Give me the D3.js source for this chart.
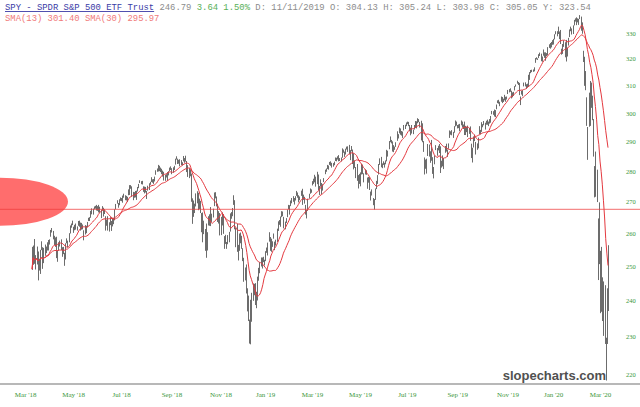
<!DOCTYPE html>
<html><head><meta charset="utf-8">
<script src="https://cdn.jsdelivr.net/npm/d3@7"></script>
<style>html,body{margin:0;padding:0;background:#fff;}svg{display:block}</style>
</head><body>
<svg id="chart" width="640" height="407"></svg>
<script>
// ---------- DATA (SPY daily, dividend adjusted) ----------
const startDate = "2018-03-23";
const holidays = ["2018-03-30","2018-05-28","2018-07-04","2018-09-03","2018-11-22","2018-12-05","2018-12-25",
  "2019-01-01","2019-01-21","2019-02-18","2019-04-19","2019-05-27","2019-07-04","2019-09-02","2019-11-28","2019-12-25",
  "2020-01-01","2020-01-20","2020-02-17"];

const closes = [
249.2,256.0,251.6,250.9,254.3,
248.6,251.8,254.7,256.4,250.8,251.6,255.9,254.4,256.5,255.8,257.9,260.6,260.8,259.3,257.1,257.1,253.7,254.2,256.8,257.1,255.0,
255.7,253.8,253.2,256.5,257.4,257.3,259.8,262.2,262.7,262.9,261.1,262.2,261.9,261.3,263.2,262.4,263.2,262.7,262.1,259.0,262.3,260.5,
263.3,264.5,264.7,267.0,266.8,267.6,267.9,268.4,267.3,268.0,268.8,268.2,267.1,267.6,265.9,266.4,262.7,263.3,261.1,262.7,262.9,
263.7,262.4,264.6,266.9,269.2,270.2,268.2,270.6,270.9,270.6,271.7,272.3,271.2,270.9,271.4,272.7,275.2,274.4,272.6,271.0,272.3,
272.1,273.4,274.7,275.6,276.4,276.3,275.9,274.0,272.9,274.6,272.5,274.7,275.6,276.3,276.9,276.7,276.3,278.0,280.1,280.2,281.8,280.5,280.6,
280.1,279.3,278.3,277.7,278.2,279.3,279.4,280.8,280.9,279.3,280.8,281.2,283.4,284.2,283.2,282.8,281.9,282.7,282.7,
283.7,283.6,283.8,281.5,279.9,279.8,279.4,270.2,264.7,268.4,266.8,272.6,272.5,268.6,268.5,267.3,265.9,257.6,262.4,257.9,256.2,260.2,263.0,
265.8,264.1,265.6,267.3,272.9,272.3,269.8,264.4,264.0,262.1,264.8,265.4,261.0,256.3,257.0,255.4,259.3,260.2,266.1,265.6,267.7,
270.7,261.9,261.5,255.4,255.9,255.8,257.2,257.1,252.2,247.0,247.0,243.2,239.3,235.1,228.8,240.1,242.2,241.9,243.9,
244.2,238.2,246.4,248.1,250.5,251.5,252.6,252.6,251.3,254.0,254.5,256.5,259.9,256.2,256.7,257.1,259.3,257.3,256.9,260.9,263.1,
263.3,265.1,266.4,265.8,263.3,263.5,263.7,267.1,267.9,267.2,270.1,270.5,271.0,270.0,271.7,272.1,271.8,271.7,270.9,
272.8,271.7,271.4,269.7,267.5,266.9,270.8,271.6,273.5,273.3,276.0,277.1,277.0,276.2,279.2,273.9,273.7,275.6,274.4,275.3,277.2,
280.4,280.4,281.0,281.6,282.9,283.2,281.5,282.5,282.5,284.3,284.2,284.3,283.7,284.1,284.4,286.9,286.3,286.2,287.5,287.8,288.1,
285.9,285.3,288.1,286.8,282.1,281.6,280.8,281.8,275.0,277.2,278.8,281.3,279.7,277.8,280.1,279.3,276.0,276.4,274.1,272.2,272.8,269.2,
268.4,274.2,276.4,278.1,281.0,282.3,282.2,281.6,282.8,282.3,282.6,285.4,286.2,288.9,290.3,289.8,287.1,286.7,287.8,289.5,
291.7,292.5,294.8,294.3,292.8,293.2,294.5,295.2,296.6,296.6,295.6,293.7,294.7,292.9,293.7,295.7,297.1,295.6,297.8,297.3,296.5,293.3,
290.6,288.5,279.9,283.6,283.8,289.1,287.2,283.7,288.0,279.5,280.2,284.3,287.7,285.4,287.8,287.6,280.2,283.2,282.3,284.2,287.8,288.0,
286.0,289.1,292.8,293.1,293.1,293.2,295.3,296.1,295.9,295.0,295.8,295.9,295.9,295.6,295.6,293.1,294.9,294.2,292.6,294.1,
290.5,285.3,287.6,291.7,290.4,285.8,288.4,290.3,293.5,293.1,296.0,295.4,296.2,295.0,297.1,296.0,296.9,297.4,298.6,300.3,300.0,301.0,300.1,
303.0,304.1,303.8,304.0,304.8,305.6,305.0,305.5,305.7,305.9,308.3,308.5,308.3,307.1,306.6,307.3,309.6,310.3,311.6,310.3,
307.6,305.6,307.5,308.0,310.8,309.8,309.5,310.4,313.1,313.1,315.3,315.4,315.3,316.7,319.9,320.1,320.1,321.7,321.7,319.9,320.8,
323.5,321.2,322.4,321.5,323.0,325.2,324.3,326.5,326.0,326.6,329.4,330.6,329.8,329.9,330.2,327.2,322.1,325.3,325.0,326.1,320.3,
322.6,327.5,331.1,332.2,330.4,332.9,333.4,335.6,335.0,335.6,334.7,336.3,335.0,331.4,320.3,310.6,309.5,295.8,293.4,
306.9,298.2,310.8,300.3,295.2,272.7,286.2,272.2,246.3,269.2,236.9,251.1,238.1,239.3,228.8,223.0,243.2,246.8];

const highs = [
255.9,256.3,258.3,253.4,256.0,
254.5,252.3,255.0,257.6,255.8,255.6,256.6,256.0,257.3,258.0,258.2,261.1,261.7,260.8,259.3,258.8,259.0,254.8,257.3,257.8,258.2,
255.8,255.9,254.1,257.0,258.5,257.8,260.1,262.5,263.1,264.0,262.1,262.7,263.1,262.2,263.9,264.0,263.4,263.3,262.8,261.0,262.6,262.4,
263.6,264.9,265.1,267.1,267.9,267.8,268.5,268.7,269.0,268.6,269.0,268.4,267.5,268.6,268.1,267.6,265.4,264.3,265.4,263.5,265.1,
263.9,264.9,264.8,267.6,269.3,270.5,269.6,270.8,271.4,271.2,272.0,272.6,272.1,271.9,271.6,274.0,275.4,275.4,275.0,273.2,273.1,
273.5,273.6,274.8,275.8,277.0,276.7,276.8,275.0,274.9,274.8,273.5,275.2,276.0,276.5,278.0,277.3,277.4,278.2,280.3,280.9,282.1,281.8,281.2,
280.8,280.2,279.8,278.8,279.0,279.7,280.0,281.2,281.6,281.0,281.3,281.8,284.2,285.0,284.2,283.8,284.0,283.7,283.0,
285.1,284.4,285.2,283.4,282.0,281.0,280.6,279.2,271.1,270.4,269.4,272.7,273.4,272.9,271.0,270.3,266.4,266.6,264.0,261.4,263.1,260.4,265.4,
266.0,268.3,266.2,267.8,273.0,273.1,271.7,269.4,267.0,266.4,265.2,266.6,266.0,259.2,259.6,257.4,259.5,260.5,266.3,266.7,268.0,
272.1,270.5,261.8,263.0,256.5,260.0,260.3,259.3,255.5,252.6,249.7,250.6,243.6,241.5,234.7,240.3,242.3,245.0,244.9,
245.1,242.6,247.0,249.6,251.3,252.7,252.7,252.9,252.0,254.6,255.7,257.2,260.4,258.9,258.4,257.6,260.0,257.5,258.1,261.5,263.8,
264.2,265.3,267.0,266.9,265.2,263.7,264.8,267.5,269.0,268.9,270.4,271.2,271.8,271.2,271.8,273.5,273.0,272.1,271.7,
273.6,274.2,272.3,271.6,269.0,267.4,271.0,272.6,274.3,274.0,276.7,277.5,278.8,278.2,279.8,278.9,275.1,277.3,276.1,275.7,277.7,
280.5,280.9,282.1,281.9,283.1,283.3,282.8,282.7,283.2,284.6,284.5,285.0,285.4,284.4,284.6,287.7,287.3,286.6,287.6,288.3,288.4,
288.9,287.1,288.5,287.3,286.0,283.6,281.4,282.4,278.7,279.1,279.6,282.5,282.2,279.3,280.6,280.3,277.9,278.1,278.0,273.3,274.0,271.2,
270.9,274.3,276.8,278.7,282.4,284.3,284.8,282.6,283.3,282.8,283.6,287.2,286.9,290.2,291.8,290.6,290.1,288.8,288.3,289.8,
293.6,292.6,294.9,294.6,293.7,293.5,295.8,295.9,296.7,297.0,296.9,295.8,294.9,295.8,294.2,295.8,297.2,297.1,298.2,297.9,296.9,297.3,
296.4,290.2,284.6,283.9,284.2,289.2,289.0,286.7,290.6,284.7,281.4,285.3,288.8,287.8,288.6,289.2,288.4,283.5,285.3,284.5,288.5,289.3,
287.3,289.4,293.9,293.6,294.0,293.4,295.4,297.4,297.0,295.8,296.0,296.2,297.4,297.0,296.0,297.0,295.5,295.1,295.6,294.8,
295.3,289.3,287.9,291.8,292.4,289.9,289.4,291.4,295.4,294.1,296.8,296.1,297.2,296.6,297.3,297.7,297.0,297.9,299.0,300.8,300.7,301.3,301.1,
303.1,304.6,304.8,304.1,306.0,305.8,305.2,306.6,305.9,306.0,308.4,308.7,309.0,308.1,307.5,307.7,309.8,310.4,311.8,311.3,
311.0,306.0,308.1,308.3,311.1,311.2,310.5,310.7,314.0,315.0,315.8,315.9,316.0,316.8,320.3,320.6,320.2,321.8,322.4,322.0,320.9,
323.6,322.5,322.5,322.2,324.5,325.6,326.1,326.5,327.2,327.7,329.5,330.7,330.7,332.5,330.6,331.2,323.9,325.7,327.1,326.4,327.3,
324.2,328.1,331.4,332.5,331.8,333.0,335.2,335.8,336.2,335.8,335.6,337.1,336.5,334.2,323.1,320.8,315.4,305.7,295.1,
307.4,311.7,311.1,306.3,297.9,281.7,286.6,280.5,264.7,269.8,254.7,255.9,246.8,245.6,244.5,229.7,243.6,256.4];

const lows = [
249.0,250.5,250.8,249.1,250.6,
245.9,248.8,247.8,254.9,249.3,251.0,253.2,254.0,254.8,254.8,256.6,259.0,260.3,258.2,256.4,255.9,252.5,251.4,254.7,256.0,254.9,
252.9,253.7,250.2,252.1,257.0,255.8,257.3,260.0,261.8,262.6,260.2,261.0,261.2,260.9,262.4,262.1,260.9,261.2,261.3,257.9,259.7,260.1,
261.9,263.9,263.9,264.9,266.0,265.9,267.6,267.8,267.2,267.1,266.6,266.5,264.8,267.2,265.3,266.1,260.9,262.4,260.9,260.6,262.6,
260.8,262.2,262.9,264.1,267.6,269.4,268.1,268.9,270.3,270.2,269.7,271.3,270.5,270.4,269.9,272.1,272.2,274.2,271.6,270.5,271.3,
271.4,270.6,273.3,274.4,276.1,275.7,275.6,273.2,272.7,273.0,270.9,273.6,273.8,275.5,276.4,276.2,275.8,276.6,278.8,279.8,279.9,280.0,279.7,
279.0,278.2,276.9,276.8,277.9,276.8,278.6,280.0,280.4,279.0,279.5,280.4,282.2,283.9,282.4,282.5,281.6,282.0,281.9,
283.3,282.8,283.2,279.7,278.1,277.7,278.3,270.0,263.0,265.2,266.4,268.5,269.5,267.3,267.7,266.4,260.4,257.3,259.8,254.7,252.6,254.8,262.5,
262.4,262.3,263.6,265.0,268.6,271.1,268.5,263.6,263.1,259.4,259.5,262.5,259.9,255.3,256.8,255.3,256.7,257.3,260.6,264.6,265.4,
269.0,261.3,255.8,254.4,251.8,254.7,257.0,255.3,251.6,245.5,245.9,242.1,237.0,234.3,228.1,227.9,234.1,240.0,241.6,
238.8,237.9,240.1,245.8,248.0,250.0,249.4,251.3,250.3,251.6,254.1,253.3,257.5,254.7,254.4,255.9,258.4,254.9,256.3,257.4,260.8,
262.7,262.1,265.1,265.4,261.6,261.3,263.3,265.1,267.6,265.9,268.6,269.5,270.0,269.1,270.4,271.9,271.3,269.8,270.5,
271.9,269.0,270.6,269.4,265.9,264.7,267.1,271.1,272.6,272.9,275.3,275.8,276.3,274.9,275.7,273.7,272.2,274.9,272.5,273.6,276.4,
279.0,279.8,280.7,280.5,282.1,281.8,281.2,281.5,282.0,283.4,283.3,283.9,283.3,283.4,283.3,284.5,286.2,284.8,285.6,287.3,286.5,
285.8,283.7,286.7,282.4,280.6,281.1,277.7,276.8,274.3,275.8,275.0,278.9,279.0,276.3,278.9,278.8,274.2,276.2,273.8,270.4,272.0,268.9,
267.5,270.6,274.1,275.8,278.9,282.1,281.3,281.0,282.1,281.2,282.3,283.3,284.9,287.4,289.8,289.4,286.6,286.4,287.2,288.2,
290.3,291.1,292.9,292.4,292.1,291.3,293.9,294.4,295.4,296.1,295.4,293.6,292.2,292.8,292.6,294.2,295.0,294.6,296.4,296.8,294.9,290.4,
289.8,286.5,278.9,280.8,279.2,285.1,284.9,282.8,283.5,279.1,277.6,282.3,287.1,285.2,287.0,286.1,279.4,281.2,281.6,280.7,286.2,286.6,
284.8,287.6,291.3,292.4,292.2,291.3,293.1,295.3,295.6,294.6,294.7,293.6,295.7,294.9,294.4,292.3,292.3,293.3,291.6,292.7,
290.3,284.4,282.9,288.0,290.2,285.6,287.2,287.7,292.6,292.6,293.4,295.0,295.7,294.2,295.9,295.9,295.4,296.3,296.6,299.6,299.4,298.8,298.6,
301.4,303.6,303.4,302.5,304.1,303.6,304.0,304.6,304.1,304.9,306.9,307.5,307.7,305.3,305.7,306.2,308.2,309.6,310.7,310.2,
306.5,302.9,306.7,306.1,309.7,309.7,308.8,309.4,309.7,312.1,314.6,315.0,315.1,315.3,318.5,319.8,319.6,320.3,321.1,319.1,318.9,
321.2,320.4,319.3,321.0,321.4,324.2,323.9,324.4,325.4,325.5,327.5,329.5,328.7,329.6,327.6,325.7,321.6,321.9,324.6,320.6,319.0,
320.9,325.1,328.4,330.7,329.4,329.6,333.0,334.5,333.1,334.2,333.2,335.5,330.9,329.7,318.8,309.9,308.3,295.5,283.8,
295.2,295.5,301.9,297.5,284.9,271.4,271.6,269.9,246.0,250.7,236.5,236.9,234.3,230.2,228.0,218.3,228.0,237.1];

const yTicks = [220,230,240,250,260,270,280,290,300,310,320,330];
const xTickMonths = ["2018-03","2018-05","2018-07","2018-09","2018-11","2019-01","2019-03","2019-05","2019-07","2019-09","2019-11","2020-01","2020-03"];
const smaPeriods = [13, 30];
const hLineValue = 267.6;
const ellipseValue = 270;
const headerTitle = "SPY - SPDR S&P 500 ETF Trust";
const headerLast = "246.79";
const headerChange = ["3.64", "1.50%"];
const headerOHLC = "D: 11/11/2019 O: 304.13 H: 305.24 L: 303.98 C: 305.05 Y: 323.54";
const smaLegend = "SMA(13) 301.40 SMA(30) 295.97";
const watermark = "slopecharts.com";

// ---------- TRADING DATES ----------
const N = closes.length;
const dates = [];
{
  const p = startDate.split("-").map(Number);
  const d = new Date(Date.UTC(p[0], p[1]-1, p[2]));
  while (dates.length < N) {
    const iso = d.toISOString().slice(0,10), dow = d.getUTCDay();
    if (dow !== 0 && dow !== 6 && !holidays.includes(iso)) dates.push(new Date(d));
    d.setUTCDate(d.getUTCDate()+1);
  }
}
function indexOfDate(t) {
  if (t < dates[0]) {
    let c = 0; const d = new Date(t);
    while (d < dates[0]) { const w = d.getUTCDay(); if (w !== 0 && w !== 6) c++; d.setUTCDate(d.getUTCDate()+1); }
    return -c;
  }
  const i = dates.findIndex(d => d >= t);
  return i < 0 ? N-1 : i;
}

// ---------- SCALES ----------
const svg = d3.select("#chart");
const x = d3.scaleLinear().domain([0, N-1]).range([32, 608]);
const y = d3.scaleLog().domain([220, 330]).range([374, 33]);

// ellipse annotation
svg.append("ellipse")
  .attr("cx", 0).attr("cy", y(ellipseValue)).attr("rx", 68).attr("ry", 24)
  .attr("fill", "#ff6d6d");

// bars
svg.append("g").selectAll("line").data(closes).join("line")
  .attr("x1", (d,i) => Math.round(x(i)) + 0.5).attr("x2", (d,i) => Math.round(x(i)) + 0.5)
  .attr("y1", (d,i) => y(highs[i])).attr("y2", (d,i) => y(lows[i]))
  .attr("stroke", "#6c6c6c").attr("stroke-width", 1);

// SMAs
function sma(n) {
  return closes.map((c,i) => d3.mean(closes.slice(Math.max(0, i-n+1), i+1)));
}
const line = d3.line().x((d,i) => x(i)).y(d => y(d));
smaPeriods.forEach(n => {
  svg.append("path").datum(sma(n)).attr("d", line)
    .attr("fill", "none").attr("stroke", "#e4393f").attr("stroke-width", 1);
});

// horizontal line
const hy = y(hLineValue);
svg.append("line").attr("x1", 0).attr("x2", 640).attr("y1", hy).attr("y2", hy)
  .attr("stroke", "#ee3c3c").attr("stroke-opacity", 0.6).attr("stroke-width", 1.2);

// bottom separator
svg.append("line").attr("x1", 0).attr("x2", 640).attr("y1", 384).attr("y2", 384)
  .attr("stroke", "#b8b8b8").attr("stroke-width", 2);

// y axis (right)
const yAxis = svg.append("g").attr("transform", "translate(624,0)")
  .call(d3.axisRight(y).tickValues(yTicks).tickFormat(d3.format("d")).tickSize(0).tickPadding(2));
yAxis.select(".domain").remove();
yAxis.selectAll("text").attr("fill", "#3a963a").style("font-family", "'Liberation Serif', serif").style("font-size", "6.5px");

// x axis (bottom)
const fmt = d3.utcFormat("%b '%y");
const tickDates = xTickMonths.map(s => { const p = s.split("-").map(Number); return new Date(Date.UTC(p[0], p[1]-1, 15)); });
const tickIdx = tickDates.map(indexOfDate);
const xAxis = svg.append("g").attr("transform", "translate(0,388)")
  .call(d3.axisBottom(x).tickValues(tickIdx).tickFormat((d,i) => fmt(tickDates[i])).tickSize(0).tickPadding(4.5));
xAxis.select(".domain").remove();
xAxis.selectAll("text").attr("fill", "#3a963a").style("font-family", "'Liberation Serif', serif").style("font-size", "7px");

// header
const h1 = svg.append("text").attr("x", 5).attr("y", 10)
  .style("font-family", "'Liberation Mono', 'Courier New', monospace").style("font-size", "8.9px");
h1.append("tspan").text(headerTitle).attr("fill", "#3b3ba6").style("text-decoration", "underline");
h1.append("tspan").text(" " + headerLast).attr("fill", "#8c8c8c");
h1.append("tspan").text(" " + headerChange.join(" ")).attr("fill", "#58b058");
h1.append("tspan").text(" " + headerOHLC).attr("fill", "#8c8c8c");
svg.append("text").attr("x", 5).attr("y", 21)
  .style("font-family", "'Liberation Mono', 'Courier New', monospace").style("font-size", "8.9px")
  .attr("fill", "#f07a7a").text(smaLegend);

// watermark
svg.append("text").attr("x", 606).attr("y", 380).attr("text-anchor", "end")
  .style("font-family", "'Liberation Sans', Arial, sans-serif").style("font-weight", "bold").style("font-size", "13px")
  .attr("fill", "#505050").text(watermark);
</script>
</body></html>
